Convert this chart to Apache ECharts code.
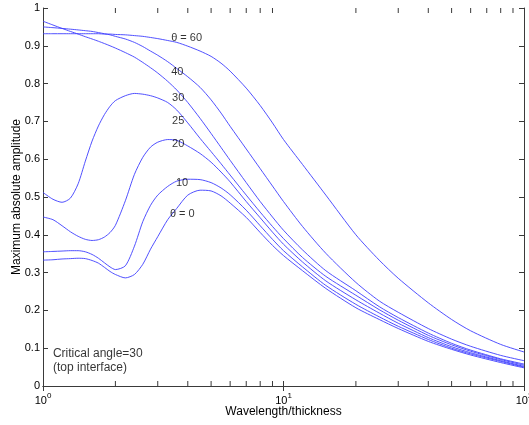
<!DOCTYPE html>
<html><head><meta charset="utf-8">
<script src="https://cdn.jsdelivr.net/npm/echarts@6/dist/echarts.min.js"></script>
<style>html,body{margin:0;padding:0;background:#fff}#c{width:529px;height:425px}</style>
</head><body><div id="c"></div>
<script>
// Wavelength/thickness samples (x, log axis)
const wavelength = [1,1.1,1.2,1.3,1.4,1.5,1.6,1.7,1.8,1.9,2,2.2,2.4,2.6,2.8,3,3.3,3.6,4,4.5,5,5.5,6,7,8,9,10,12,15,20,25,30,40,50,60,80,100];
// Maximum absolute amplitude for each incidence angle
const theta0  = [0.333,0.334,0.336,0.337,0.338,0.337,0.332,0.325,0.314,0.303,0.295,0.286,0.295,0.322,0.362,0.395,0.440,0.470,0.505,0.518,0.516,0.503,0.484,0.446,0.406,0.372,0.345,0.305,0.258,0.207,0.176,0.152,0.118,0.097,0.082,0.062,0.048];
const theta10 = [0.355,0.356,0.357,0.358,0.358,0.355,0.348,0.338,0.326,0.315,0.308,0.318,0.370,0.435,0.478,0.505,0.528,0.542,0.547,0.546,0.538,0.524,0.506,0.465,0.424,0.388,0.358,0.315,0.266,0.216,0.183,0.158,0.123,0.100,0.085,0.065,0.050];
const theta20 = [0.447,0.440,0.424,0.408,0.396,0.388,0.385,0.387,0.394,0.406,0.425,0.490,0.560,0.605,0.632,0.645,0.652,0.650,0.635,0.615,0.592,0.566,0.540,0.488,0.445,0.407,0.375,0.328,0.278,0.228,0.193,0.166,0.128,0.104,0.088,0.067,0.052];
const theta25 = [0.512,0.494,0.486,0.497,0.535,0.595,0.648,0.688,0.718,0.740,0.755,0.768,0.774,0.772,0.768,0.762,0.750,0.730,0.696,0.655,0.620,0.588,0.558,0.505,0.460,0.422,0.390,0.340,0.290,0.240,0.202,0.174,0.134,0.109,0.092,0.070,0.055];
const theta30 = [0.965,0.955,0.946,0.938,0.931,0.924,0.918,0.912,0.906,0.900,0.894,0.882,0.870,0.856,0.842,0.828,0.806,0.783,0.750,0.708,0.668,0.631,0.597,0.538,0.488,0.447,0.412,0.360,0.305,0.252,0.210,0.181,0.140,0.113,0.095,0.072,0.058];
const theta40 = [0.950,0.948,0.946,0.944,0.942,0.940,0.938,0.935,0.932,0.929,0.925,0.918,0.909,0.898,0.886,0.875,0.858,0.840,0.818,0.790,0.757,0.722,0.687,0.627,0.575,0.529,0.488,0.422,0.351,0.274,0.225,0.195,0.152,0.124,0.105,0.081,0.067];
const theta60 = [0.932,0.932,0.932,0.932,0.932,0.932,0.932,0.932,0.931,0.931,0.930,0.929,0.927,0.925,0.922,0.919,0.914,0.909,0.899,0.886,0.872,0.854,0.833,0.788,0.742,0.696,0.652,0.586,0.505,0.400,0.333,0.285,0.220,0.176,0.146,0.110,0.090];

// In-plot curve labels
const labelTexts = ['θ = 60', '40', '30', '25', '20', '10', 'θ = 0'];
const labelX = [3.41, 3.41, 3.44, 3.44, 3.44, 3.57, 3.37];
const labelY = [0.922, 0.831, 0.762, 0.701, 0.640, 0.538, 0.456];
const noteText = 'Critical angle=30\n(top interface)';
const notePos = [1.1, 0.066];

// Axis ticks
const xMinorTicks = [2,3,4,5,6,7,8,9,20,30,40,50,60,70,80,90];

const curves = [theta0, theta10, theta20, theta25, theta30, theta40, theta60];
const FONT = '"Liberation Sans", Arial, Helvetica, sans-serif';
const AX = '#3a3a3a';
const LINE = '#3d3dff';

const series = curves.map((ys) => ({
  type: 'line',
  data: wavelength.map((x, i) => [x, ys[i]]),
  showSymbol: false,
  smooth: 0.25,
  lineStyle: { color: LINE, width: 0.9 },
  silent: true,
  z: 3
}));

series.push({
  type: 'scatter',
  data: labelTexts.map((t, i) => ({ value: [labelX[i], labelY[i]], name: t })),
  symbolSize: 0,
  silent: true,
  z: 5,
  label: {
    show: true, position: [0, 0], align: 'left', verticalAlign: 'middle',
    formatter: (p) => p.name, color: '#000', fontSize: 11, fontFamily: FONT
  }
});
series.push({
  type: 'scatter',
  data: [{ value: notePos, name: noteText }],
  symbolSize: 0,
  silent: true,
  z: 5,
  label: {
    show: true, position: [0, 0], align: 'left', verticalAlign: 'middle',
    formatter: (p) => p.name, color: '#000', fontSize: 12, lineHeight: 14, fontFamily: FONT
  }
});
series.push({
  type: 'custom',
  data: xMinorTicks.map((v) => [v, 0]),
  silent: true,
  clip: false,
  z: 4,
  renderItem: (params, api) => {
    const v = api.value(0);
    const b = api.coord([v, 0]);
    const t = api.coord([v, 1]);
    return {
      type: 'group',
      children: [
        { type: 'line', shape: { x1: b[0], y1: b[1], x2: b[0], y2: b[1] - 5 }, style: { stroke: AX, lineWidth: 1 } },
        { type: 'line', shape: { x1: t[0], y1: t[1], x2: t[0], y2: t[1] + 5 }, style: { stroke: AX, lineWidth: 1 } }
      ]
    };
  }
});

const chart = echarts.init(document.getElementById('c'), null, { renderer: 'canvas' });
chart.setOption({
  animation: false,
  backgroundColor: '#fff',
  grid: { left: 43, right: 5, top: 8, bottom: 39, containLabel: false, outerBoundsMode: 'none' },
  xAxis: [{
    type: 'log', logBase: 10, min: 1, max: 100, position: 'bottom',
    name: 'Wavelength/thickness', nameLocation: 'middle', nameGap: 20, nameMoveOverlap: false,
    nameTextStyle: { color: '#000', fontSize: 12, fontFamily: FONT },
    axisLine: { show: true, lineStyle: { color: AX, width: 1 } },
    axisTick: { show: true, inside: true, length: 5, lineStyle: { color: AX } },
    splitLine: { show: false },
    axisLabel: {
      margin: 6, color: '#000', fontFamily: FONT, hideOverlap: false,
      formatter: (v) => '{b|10}{s|' + Math.round(Math.log10(v)) + '}',
      rich: {
        b: { fontSize: 11, lineHeight: 14, verticalAlign: 'bottom', fontFamily: FONT, color: '#000' },
        s: { fontSize: 8, lineHeight: 8, verticalAlign: 'top', fontFamily: FONT, color: '#000' }
      }
    }
  }, {
    type: 'log', logBase: 10, min: 1, max: 100, position: 'top',
    axisLine: { show: true, lineStyle: { color: AX, width: 1 } },
    axisTick: { show: true, inside: true, length: 5, lineStyle: { color: AX } },
    axisLabel: { show: false }, splitLine: { show: false }
  }],
  yAxis: [{
    type: 'value', min: 0, max: 1, interval: 0.1, position: 'left',
    name: 'Maximum absolute amplitude', nameLocation: 'middle', nameGap: 20, nameRotate: 90, nameMoveOverlap: false,
    nameTextStyle: { color: '#000', fontSize: 12, fontFamily: FONT },
    axisLine: { show: true, lineStyle: { color: AX, width: 1 } },
    axisTick: { show: true, inside: true, length: 5, lineStyle: { color: AX } },
    axisLabel: { margin: 3, color: '#000', fontSize: 11, fontFamily: FONT },
    splitLine: { show: false }
  }, {
    type: 'value', min: 0, max: 1, interval: 0.1, position: 'right',
    axisLine: { show: true, lineStyle: { color: AX, width: 1 } },
    axisTick: { show: true, inside: true, length: 5, lineStyle: { color: AX } },
    axisLabel: { show: false }, splitLine: { show: false }
  }],
  series: series
});
</script>
</body></html>
